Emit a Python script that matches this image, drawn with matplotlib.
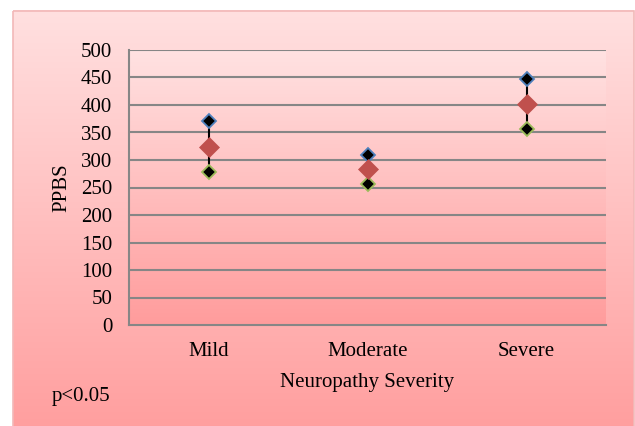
import numpy as np
import matplotlib.pyplot as plt
from matplotlib.colors import LinearSegmentedColormap
from matplotlib.patches import Rectangle

categories = ["Mild", "Moderate", "Severe"]
high_values = [371, 310, 448]
mean_values = [324, 283, 402]
low_values = [278, 256, 357]
y_ticks = [0, 50, 100, 150, 200, 250, 300, 350, 400, 450, 500]

plt.rcParams['font.family'] = ['Liberation Serif', 'DejaVu Serif']
FS = 15

W, H = 635, 426
fig = plt.figure(figsize=(W / 100, H / 100), dpi=100)

# Outer chart area with vertical pink gradient and thin border
bg = fig.add_axes([0, 0, 1, 1])
bg.set_xlim(0, W)
bg.set_ylim(H, 0)
bg.axis('off')
outer_cmap = LinearSegmentedColormap.from_list('outer', ['#ffe0e0', '#ff9e9e'])
grad = np.linspace(0, 1, 256).reshape(-1, 1)
bg.imshow(grad, cmap=outer_cmap, extent=[13, 634, 432, 10.5], aspect='auto', zorder=0)
bg.add_patch(Rectangle((13, 10.5), 621, 422, fill=False, edgecolor='#f2b8b8', lw=1.2, zorder=1))

# Plot area
ax = fig.add_axes([129 / W, 1 - 325 / H, (606 - 129) / W, (325 - 50) / H])
inner_cmap = LinearSegmentedColormap.from_list('inner', ['#ffe2e2', '#ff9c9c'])
ax.imshow(grad, cmap=inner_cmap, extent=[0, 1, 0, 1], transform=ax.transAxes,
          aspect='auto', zorder=0)

x = np.arange(len(categories))
ax.set_xlim(-0.5, len(categories) - 0.5)
ax.set_ylim(0, 500)

for t in y_ticks[1:]:
    ax.axhline(t, color='#868686', lw=1.5, zorder=1)

ax.vlines(x, low_values, high_values, color='black', lw=1.5, zorder=2)
ax.plot(x, high_values, linestyle='none', marker='D', markersize=7,
        markerfacecolor='black', markeredgecolor='#4f81bd', markeredgewidth=1.3, zorder=3)
ax.plot(x, low_values, linestyle='none', marker='D', markersize=7,
        markerfacecolor='black', markeredgecolor='#9bbb59', markeredgewidth=1.3, zorder=3)
ax.plot(x, mean_values, linestyle='none', marker='D', markersize=10,
        markerfacecolor='#c0504d', markeredgecolor='#c0504d', markeredgewidth=0.5, zorder=4)

for side in ['top', 'right']:
    ax.spines[side].set_visible(False)
for side in ['left', 'bottom']:
    ax.spines[side].set_color('#868686')
    ax.spines[side].set_linewidth(1.5)

ax.set_yticks(y_ticks)
ax.set_xticks(x)
ax.set_xticklabels(categories)
ax.tick_params(axis='both', length=0, labelsize=FS, colors='black')
ax.tick_params(axis='y', pad=12)
ax.tick_params(axis='x', pad=12)

fig.text(62 / W, 1 - 188 / H, 'PPBS', fontsize=FS, rotation=90, ha='center', va='center')
fig.text(367 / W, 1 - 382 / H, 'Neuropathy Severity', fontsize=FS, ha='center', va='center')
fig.text(52 / W, 1 - 397 / H, 'p<0.05', fontsize=FS, va='center', ha='left')

fig.savefig('out.png', dpi=100)
